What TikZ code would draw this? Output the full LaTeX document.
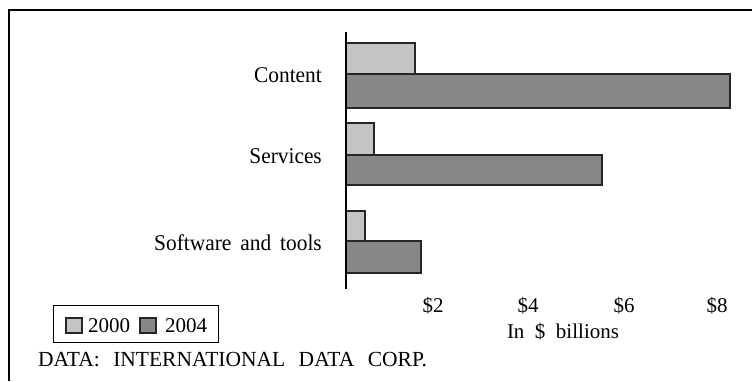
\documentclass[tikz,border=0pt]{standalone}
\usepackage{fontspec}
\setmainfont{Liberation Serif}
\newfontfamily\catfont[FakeStretch=0.95]{Liberation Serif}
\begin{document}
\begin{tikzpicture}[x=1pt,y=-1pt,
  lbl/.style={font=\fontsize{21}{24}\selectfont, inner sep=0pt},
  cat/.style={font=\catfont\fontsize{22.5}{26}\selectfont, inner sep=0pt, anchor=east},
  baro/.style={draw=black!85, line width=1.7pt, fill=light},
  barn/.style={draw=black!85, line width=1.7pt, fill=dark}]
\definecolor{light}{HTML}{C4C4C4}
\definecolor{dark}{HTML}{878787}
\useasboundingbox (0,0) rectangle (752,381);
% frame
\draw[line width=1.2pt] (9,381) -- (9,10) -- (752,10);
% bars
\draw[baro] (346,43) rectangle (415,74);
\draw[barn] (346,74) rectangle (730,108);
\draw[baro] (346,123) rectangle (374,155);
\draw[barn] (346,155) rectangle (602,185);
\draw[baro] (346,211) rectangle (365,241);
\draw[barn] (346,241) rectangle (421,273);
% axis
\draw[line width=1.3pt] (346,32) -- (346,289);
% category labels
\node[cat] (c1) at (322,75) {Content};
\node[cat] (c2) at (322,156) {Services};
\node[cat] (c3) at (322,243) {Software\hspace{9pt}and\hspace{9pt}tools};
% ticks
\node[lbl] (t2) at (433,306) {\$2};
\node[lbl] (t4) at (528,306) {\$4};
\node[lbl] (t6) at (624,306) {\$6};
\node[lbl] (t8) at (717,306) {\$8};
\node[lbl] (xl) at (563,332) {In\ \ \$\ \ billions};
% legend
\draw[line width=0.9pt] (53,305) rectangle (218,342);
\draw[draw=black!85, line width=1.4pt, fill=light] (66,318) rectangle (82,333);
\node[lbl, anchor=west] (l1) at (88,326) {2000};
\draw[draw=black!85, line width=1.4pt, fill=dark] (140,318) rectangle (156,333);
\node[lbl, anchor=west] (l2) at (165,326) {2004};
% source
\node[font=\fontsize{21.5}{25}\selectfont, inner sep=0pt, anchor=west] (src) at (38,360) {DATA:\hspace{13.5pt}INTERNATIONAL\hspace{13.5pt}DATA\hspace{13.5pt}CORP.};
\end{tikzpicture}
\end{document}
